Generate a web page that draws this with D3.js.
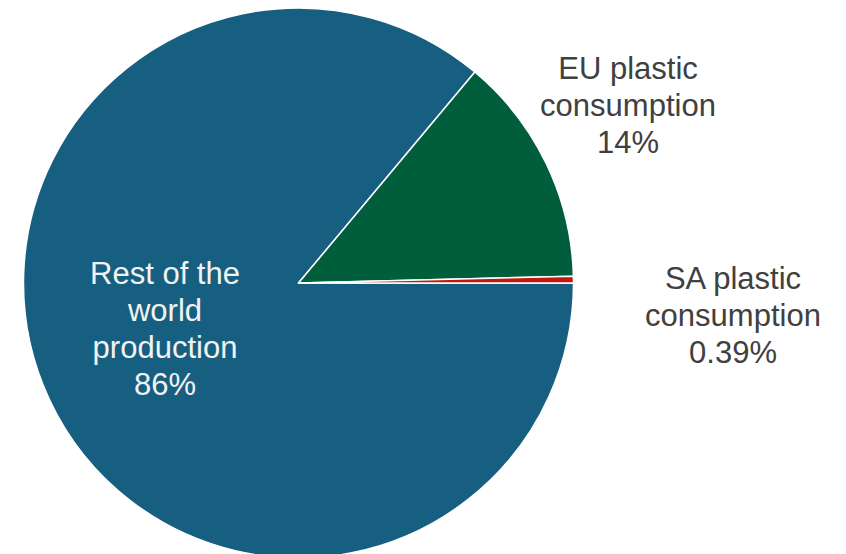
<!DOCTYPE html>
<html>
<head>
<meta charset="utf-8">
<script src="https://cdn.jsdelivr.net/npm/d3@7"></script>
<style>
  body { margin: 0; background: #fff; }
  svg { display: block; }
</style>
</head>
<body>
<div id="chart"></div>
<script>
// slice data (drawn clockwise from 3 o'clock)
const categories = ["Rest of the world production", "EU plastic consumption", "SA plastic consumption"];
const values = [86.08, 13.53, 0.39];
const pctLabels = ["86%", "14%", "0.39%"];
const labelLines = [["Rest of the", "world", "production"], ["EU plastic", "consumption"], ["SA plastic", "consumption"]];
const colors = ["#175f81", "#005e3d", "#c0180d"];

let width = 846, height = 554;
let cx = 298.5, cy = 283, radius = 275;

let svg = d3.select("#chart").append("svg")
    .attr("width", width)
    .attr("height", height);

let g = svg.append("g").attr("transform", "translate(" + cx + "," + cy + ")");

let pie = d3.pie()
    .sort(null)
    .startAngle(Math.PI / 2)
    .endAngle(Math.PI / 2 + 2 * Math.PI);

let arc = d3.arc().innerRadius(0).outerRadius(radius);

let arcs = pie(values);

g.selectAll("path.slice")
    .data(arcs)
    .enter().append("path")
    .attr("class", "slice")
    .attr("d", arc)
    .attr("fill", (d, i) => colors[i])
    .attr("stroke", "#fff")
    .attr("stroke-width", 1.5)
    .attr("stroke-linejoin", "round");

// label placement (first baseline, relative to svg), roughly where excel put them
let labelPos = [[165, 284], [628, 79], [733, 289]];
let labelColor = ["#f2f2f2", "#404040", "#404040"];
let lineStep = 37;

categories.forEach((c, i) => {
    let lines = labelLines[i].concat([pctLabels[i]]);
    let t = svg.append("text")
        .attr("text-anchor", "middle")
        .attr("font-family", "'Liberation Sans', Arial, sans-serif")
        .attr("font-size", 31)
        .attr("fill", labelColor[i]);
    lines.forEach((l, j) => {
        t.append("tspan")
            .attr("x", labelPos[i][0])
            .attr("y", labelPos[i][1] + j * lineStep)
            .text(l);
    });
});
</script>
</body>
</html>
